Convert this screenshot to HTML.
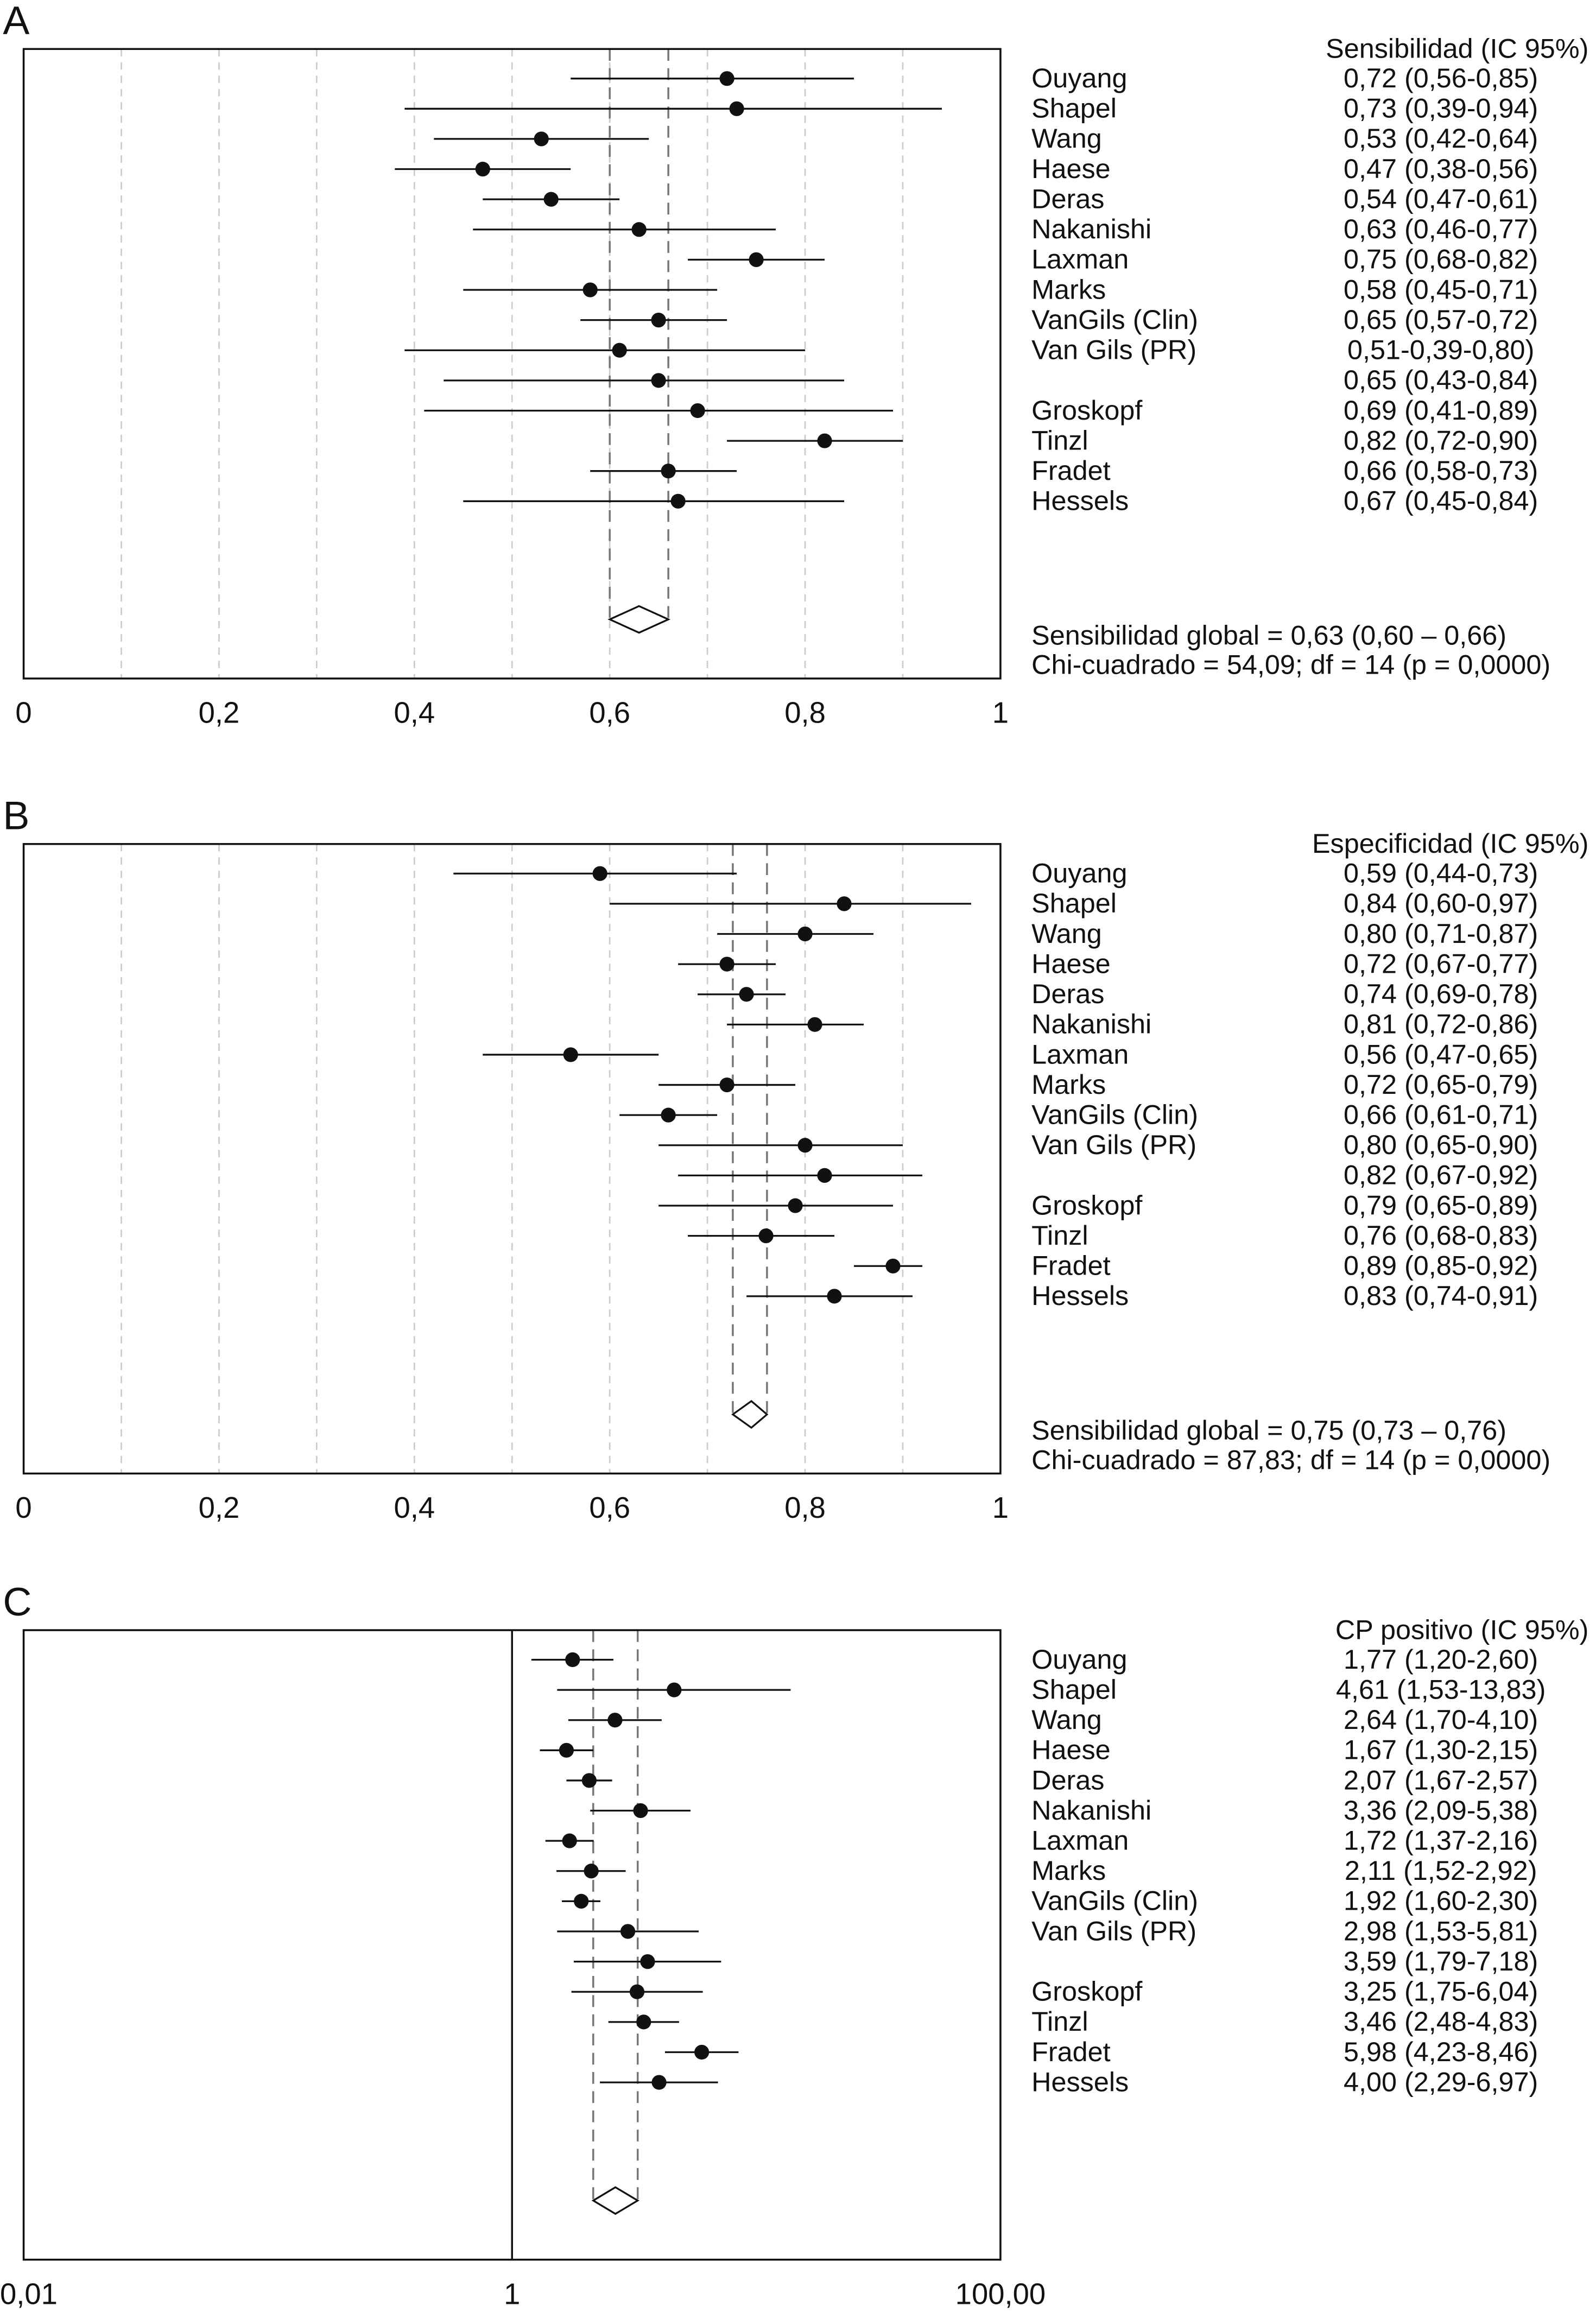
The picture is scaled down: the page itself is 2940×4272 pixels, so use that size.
<!DOCTYPE html>
<html><head><meta charset="utf-8"><style>
html,body{margin:0;padding:0;background:#fff}
svg{display:block}
text{font-family:"Liberation Sans",Arial,sans-serif;fill:#111}
</style></head><body>
<svg id="chart" width="2940" height="4272" viewBox="0 0 1080 1569" xmlns="http://www.w3.org/2000/svg"></svg>
<script>
const studies = ["Ouyang","Shapel","Wang","Haese","Deras","Nakanishi","Laxman","Marks","VanGils (Clin)","Van Gils (PR)","","Groskopf","Tinzl","Fradet","Hessels"];

const sensPoint = [0.72,0.73,0.53,0.47,0.54,0.63,0.75,0.58,0.65,0.61,0.65,0.69,0.82,0.66,0.67];
const sensLow   = [0.56,0.39,0.42,0.38,0.47,0.46,0.68,0.45,0.57,0.39,0.43,0.41,0.72,0.58,0.45];
const sensHigh  = [0.85,0.94,0.64,0.56,0.61,0.77,0.82,0.71,0.72,0.80,0.84,0.89,0.90,0.73,0.84];
const sensLabels = ["0,72 (0,56-0,85)","0,73 (0,39-0,94)","0,53 (0,42-0,64)","0,47 (0,38-0,56)","0,54 (0,47-0,61)","0,63 (0,46-0,77)","0,75 (0,68-0,82)","0,58 (0,45-0,71)","0,65 (0,57-0,72)","0,51-0,39-0,80)","0,65 (0,43-0,84)","0,69 (0,41-0,89)","0,82 (0,72-0,90)","0,66 (0,58-0,73)","0,67 (0,45-0,84)"];
const sensPooled = [0.63,0.60,0.66];

const specPoint = [0.59,0.84,0.80,0.72,0.74,0.81,0.56,0.72,0.66,0.80,0.82,0.79,0.76,0.89,0.83];
const specLow   = [0.44,0.60,0.71,0.67,0.69,0.72,0.47,0.65,0.61,0.65,0.67,0.65,0.68,0.85,0.74];
const specHigh  = [0.73,0.97,0.87,0.77,0.78,0.86,0.65,0.79,0.71,0.90,0.92,0.89,0.83,0.92,0.91];
const specLabels = ["0,59 (0,44-0,73)","0,84 (0,60-0,97)","0,80 (0,71-0,87)","0,72 (0,67-0,77)","0,74 (0,69-0,78)","0,81 (0,72-0,86)","0,56 (0,47-0,65)","0,72 (0,65-0,79)","0,66 (0,61-0,71)","0,80 (0,65-0,90)","0,82 (0,67-0,92)","0,79 (0,65-0,89)","0,76 (0,68-0,83)","0,89 (0,85-0,92)","0,83 (0,74-0,91)"];
const specPooled = [0.745,0.726,0.761];

const lrPoint = [1.77,4.61,2.64,1.67,2.07,3.36,1.72,2.11,1.92,2.98,3.59,3.25,3.46,5.98,4.00];
const lrLow   = [1.20,1.53,1.70,1.30,1.67,2.09,1.37,1.52,1.60,1.53,1.79,1.75,2.48,4.23,2.29];
const lrHigh  = [2.60,13.83,4.10,2.15,2.57,5.38,2.16,2.92,2.30,5.81,7.18,6.04,4.83,8.46,6.97];
const lrLabels = ["1,77 (1,20-2,60)","4,61 (1,53-13,83)","2,64 (1,70-4,10)","1,67 (1,30-2,15)","2,07 (1,67-2,57)","3,36 (2,09-5,38)","1,72 (1,37-2,16)","2,11 (1,52-2,92)","1,92 (1,60-2,30)","2,98 (1,53-5,81)","3,59 (1,79-7,18)","3,25 (1,75-6,04)","3,46 (2,48-4,83)","5,98 (4,23-8,46)","4,00 (2,29-6,97)"];
const lrPooled = [2.65,2.15,3.27];

const linTicks = [0,0.2,0.4,0.6,0.8,1];
const linTickLabels = ["0","0,2","0,4","0,6","0,8","1"];
const logTicks = [0.01,1,100];
const logTickLabels = ["0,01","1","100,00"];

const svg = document.getElementById('chart');
const NS = "http://www.w3.org/2000/svg";
function mk(tag, attrs, parent){
  const e = document.createElementNS(NS, tag);
  for (const k in attrs) e.setAttribute(k, attrs[k]);
  (parent||svg).appendChild(e);
  return e;
}
const X0 = 16, X1 = 677;
const linX = v => X0 + v*(X1-X0);
const logX = v => X0 + (Math.log10(v)+2)/4*(X1-X0);
const FS = 18.5;

function panel(cfg){
  const g = mk('g', {});
  
  
  const top = cfg.top, bot = top + 426, sx = cfg.sx;
  const letter = mk('text', {x:2, y:top-10, 'font-size':27}, g);
  letter.textContent = cfg.letter;
  
  
  if (cfg.grid) {
    for (let i=1;i<10;i++){
      const l = mk('line',{x1:linX(i/10),x2:linX(i/10),y1:top,y2:bot,stroke:'#ccc','stroke-width':1,'stroke-dasharray':'5,4'},g);
      
      
    }
  }
  if (cfg.refLine !== undefined) {
    const l = mk('line',{x1:sx(cfg.refLine),x2:sx(cfg.refLine),y1:top,y2:bot,stroke:'#111','stroke-width':1.3},g);
    
    
  }
  const diamondY = top + 386;
  [cfg.pooled[1], cfg.pooled[2]].forEach(v=>{
    const l = mk('line',{x1:sx(v),x2:sx(v),y1:top,y2:diamondY,stroke:'#777','stroke-width':1.3,'stroke-dasharray':'8,5'},g);
    
    
  });
  const box = mk('rect',{x:X0,y:top,width:X1-X0,height:426,fill:'none',stroke:'#111','stroke-width':1.3},g);
  
  
  const hdr = mk('text',{x:1075,y:top+6,'font-size':FS,'text-anchor':'end'},g);
  hdr.textContent = cfg.header;
  
  
  for (let i=0;i<studies.length;i++){
    const y = top + 20 + i*20.43;
    const ci = mk('line',{x1:sx(cfg.low[i]),x2:sx(cfg.high[i]),y1:y,y2:y,stroke:'#111','stroke-width':1.2},g);
    
    
    const dot = mk('circle',{cx:sx(cfg.point[i]),cy:y,r:5,fill:'#111'},g);
    
    
    const nm = mk('text',{x:698,y:y+6,'font-size':FS},g);
    nm.textContent = studies[i];
    
    
    const vl = mk('text',{x:975,y:y+6,'font-size':FS,'text-anchor':'middle'},g);
    vl.textContent = cfg.labels[i];
    
    
  }
  const xa = sx(cfg.pooled[1]), xb = sx(cfg.pooled[2]), xc = sx(cfg.pooled[0]);
  const dm = mk('polygon',{points:`${xa},${diamondY} ${xc},${diamondY-9} ${xb},${diamondY} ${xc},${diamondY+9}`,fill:'#fff',stroke:'#111','stroke-width':1.2},g);
  
  
  cfg.summary.forEach((s,k)=>{
    const t = mk('text',{x:698,y:top+403+k*20,'font-size':FS},g);
    t.textContent = s;
    
    
  });
  cfg.ticks.forEach((v,k)=>{
    const x = sx(v);
    const startLeft = cfg.firstTickLeft && k===0;
    const t = mk('text',{x: startLeft ? 0 : x, y:bot+30,'font-size':20,'text-anchor': startLeft ? 'start' : 'middle'},g);
    t.textContent = cfg.tickLabels[k];
    
    
  });
}

panel({name:'panel-a-sensitivity',letter:'A',top:33,sx:linX,grid:true,header:'Sensibilidad (IC 95%)',
  point:sensPoint,low:sensLow,high:sensHigh,labels:sensLabels,pooled:sensPooled,
  summary:['Sensibilidad global = 0,63 (0,60 – 0,66)','Chi-cuadrado = 54,09; df = 14 (p = 0,0000)'],
  ticks:linTicks,tickLabels:linTickLabels});
panel({name:'panel-b-specificity',letter:'B',top:571,sx:linX,grid:true,header:'Especificidad (IC 95%)',
  point:specPoint,low:specLow,high:specHigh,labels:specLabels,pooled:specPooled,
  summary:['Sensibilidad global = 0,75 (0,73 – 0,76)','Chi-cuadrado = 87,83; df = 14 (p = 0,0000)'],
  ticks:linTicks,tickLabels:linTickLabels});
panel({name:'panel-c-positive-lr',letter:'C',top:1103,sx:logX,grid:false,refLine:1,header:'CP positivo (IC 95%)',
  point:lrPoint,low:lrLow,high:lrHigh,labels:lrLabels,pooled:lrPooled,firstTickLeft:true,
  summary:[],ticks:logTicks,tickLabels:logTickLabels});
</script>
</body></html>
